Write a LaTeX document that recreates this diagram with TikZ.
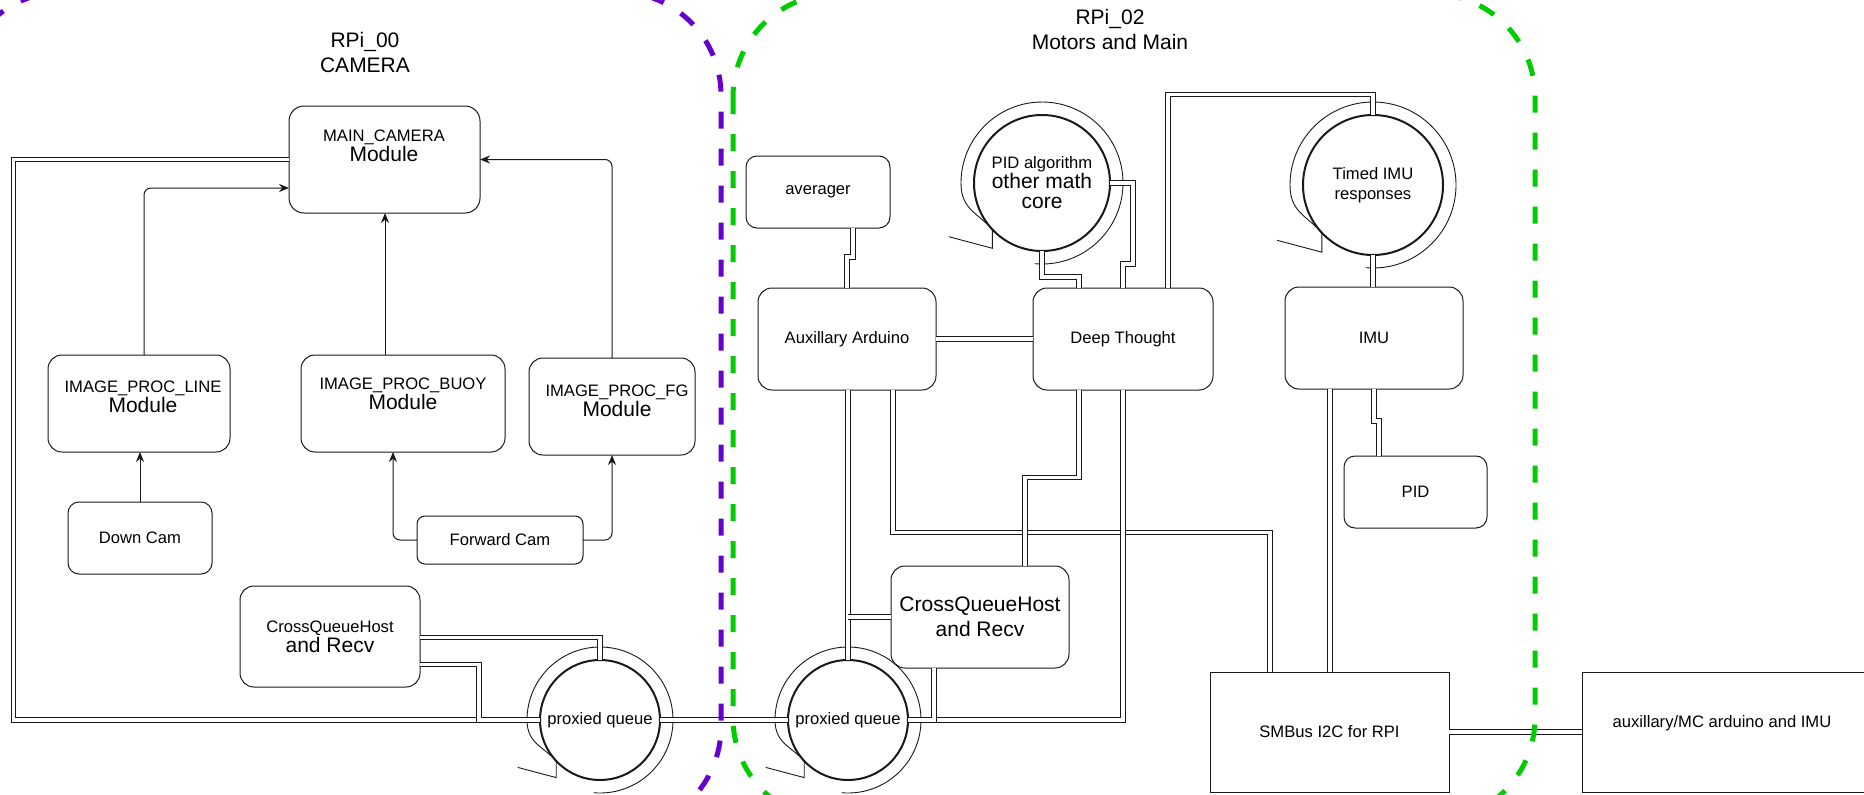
\documentclass[tikz,border=0pt]{standalone}
\usepackage{fontspec}
\setmainfont{Liberation Sans}
\usetikzlibrary{calc,arrows.meta}
\newcommand\fsm{\fontsize{16.6}{20}\selectfont}
\newcommand\fbg{\fontsize{21}{25}\selectfont}
\definecolor{vio}{RGB}{102,0,204}
\definecolor{grn}{RGB}{0,204,0}
\definecolor{ln}{RGB}{25,25,25}
\newcommand\cyc[2]{%
  \pgfmathsetmacro\RR{#2+13}%
  \pgfmathsetmacro\Ex{-0.73*#2}\pgfmathsetmacro\Ey{0.69*#2}%
  \pgfmathsetmacro\Fy{\Ey+0.27*#2}%
  \pgfmathsetmacro\Tx{\Ex-0.64*#2}\pgfmathsetmacro\Ty{\Fy-0.17*#2}%
  \pgfmathsetmacro\Cx{-\RR}\pgfmathsetmacro\Cy{0.4*#2}%
  \pgfmathsetmacro\Dx{\Ex-0.2*#2}\pgfmathsetmacro\Dy{\Ey-0.25*#2}%
  \draw[cycline] ([shift={(95:\RR)}]#1.center) arc[start angle=95,end angle=-180,radius=\RR]
    .. controls ([shift={(\Cx,\Cy)}]#1.center) and ([shift={(\Dx,\Dy)}]#1.center) .. ([shift={(\Ex,\Ey)}]#1.center)
    -- ([shift={(\Ex,\Fy)}]#1.center) -- ([shift={(\Tx,\Ty)}]#1.center);
}
\begin{document}
\begin{tikzpicture}[x=1pt,y=-1pt,
  rbox/.style={draw=ln, fill=white, line width=1pt, rounded corners=#1, inner sep=0pt, outer sep=0pt, align=center, font=\fsm},
  rbox/.default=14pt,
  sbox/.style={draw=ln, fill=white, line width=1pt, inner sep=0pt, outer sep=0pt, align=center, font=\fsm},
  circ/.style={draw=ln, fill=white, circle, line width=2pt, inner sep=0pt, outer sep=0pt, align=center, font=\fsm},
  txt/.style={inner sep=0pt, align=center, font=\fsm},
  lbl/.style={inner sep=0pt, align=center, font=\fbg},
  cycline/.style={draw=ln, line width=0.9pt},
  arr/.style={draw=ln, line width=1pt, rounded corners=7pt, -{Stealth[length=10pt,width=8pt]}},
  dbl/.style={draw=ln, line width=0.9pt, double=white, double distance=3.6pt},
  bound/.style={line width=5pt, dash pattern=on 17pt off 20pt, rounded corners=103pt}
]
\useasboundingbox (0,0) rectangle (1864,795);
\clip (0,0) rectangle (1864,795);

% labels
\node[lbl] (l0) at (365,52.5) {RPi\_00\\CAMERA};
\node[lbl] (l2) at (1110,29.5) {RPi\_02\\Motors and Main};

% left boxes
\node[rbox=15pt, minimum width=191pt, minimum height=107pt] (main) at (384.5,159.5) {};
\node[txt] (mainT) at (384,146) {MAIN\_CAMERA\\{\fbg Module}};
\node[rbox, minimum width=182pt, minimum height=97pt] (ipl) at (139,403.5) {};
\node[txt] (iplT) at (143,397) {IMAGE\_PROC\_LINE\\{\fbg Module}};
\node[rbox, minimum width=204pt, minimum height=97pt] (ipb) at (403,403.5) {};
\node[txt] (ipbT) at (403,394) {IMAGE\_PROC\_BUOY\\{\fbg Module}};
\node[rbox, minimum width=166pt, minimum height=97pt] (ipf) at (612,406.5) {};
\node[txt] (ipfT) at (617,401) {IMAGE\_PROC\_FG\\{\fbg Module}};
\node[rbox=11pt, minimum width=144pt, minimum height=72pt] (down) at (140,538) {Down Cam};
\node[rbox=8pt, minimum width=166pt, minimum height=48pt] (fwd) at (500,540) {Forward Cam};
\node[rbox, minimum width=180pt, minimum height=101pt] (cqhL) at (330,636.5) {CrossQueueHost\\{\fbg and Recv}};
\node[circ, minimum size=120pt] (qL) at (600,720) {proxied queue};

% right boxes
\node[rbox=11pt, minimum width=144pt, minimum height=72pt] (avg) at (818,192) {averager};
\node[rbox, minimum width=178pt, minimum height=102pt] (aux) at (847,339) {Auxillary Arduino};
\node[rbox, minimum width=180pt, minimum height=102pt] (dt) at (1123,339) {Deep Thought};
\node[circ, minimum size=136pt] (pidc) at (1042,183) {PID algorithm\\{\fbg other math}\\{\fbg core}};
\node[circ, minimum size=140pt] (timed) at (1373,185) {Timed IMU\\responses};
\node[rbox, minimum width=178pt, minimum height=102pt] (imu) at (1374,338) {IMU};
\node[rbox=11pt, minimum width=143pt, minimum height=72pt] (pid) at (1415.5,492) {PID};
\node[rbox, minimum width=178pt, minimum height=102pt, font=\fbg] (cqhR) at (980,617) {CrossQueueHost\\and Recv};
\node[circ, minimum size=120pt] (qR) at (848,720) {proxied queue};
\node[sbox, minimum width=239pt, minimum height=120pt] (smb) at (1329.5,732) {SMBus I2C for RPI};
\node[sbox, minimum width=298pt, minimum height=120pt] (amc) at (1731,732) {};
\node[txt] (amcT) at (1722,723) {auxillary/MC arduino and IMU};

% loop decorations
\cyc{qL}{60}
\cyc{qR}{60}
\cyc{pidc}{68}
\cyc{timed}{70}

% arrows (camera side)
\draw[arr] (ipl.north -| 144,0) |- (main.west |- 0,188);
\draw[arr] (ipb.north -| 385,0) -- (main.south -| 385,0);
\draw[arr] (ipf.north) |- (main.east);
\draw[arr] (down.north) -- (down.north |- ipl.south);
\draw[arr] (fwd.west) -| (ipb.south -| 393,0);
\draw[arr] (fwd.east) -| (ipf.south);

% double links, camera side
\draw[dbl] (main.west) -| (13.5,720) -- (qL.west);
\draw[dbl] (cqhL.east |- 0,637.5) -| (qL.north);
\draw[dbl] (cqhL.east |- 0,664.5) -| (479,720) -- (qL.west);
\draw[dbl] (qL.east) -- (qR.west);

% double links, motors side
\draw[dbl] (avg.south -| 853,0) -- (853,257) -- (847,257) -- (aux.north -| 847,0);
\draw[dbl] (aux.east) -- (dt.west);
\draw[dbl] (pidc.south) |- (1079,277) -- (dt.north -| 1079,0);
\draw[dbl] (pidc.east) -| (1133,264) -- (1123,264) -- (dt.north -| 1123,0);
\draw[dbl] (dt.north -| 1168,0) |- (1373,94.5) -- (timed.north);
\draw[dbl] (timed.south) -- (imu.north -| timed.south);
\draw[dbl] (imu.south -| 1330,0) -- (smb.north -| 1330,0);
\draw[dbl] (imu.south -| 1374,0) -- (1374,421) -- (1379,421) -- (pid.north -| 1379,0);
\draw[dbl] (aux.south -| 893,0) |- (1270,532.5) -- (smb.north -| 1270,0);
\draw[dbl] (aux.south -| qR.north) -- (qR.north);
\draw[dbl] (cqhR.west) -- (cqhR.west -| qR.north);
\draw[dbl] (cqhR.north -| 1025,0) |- (1079,477.5) -- (dt.south -| 1079,0);
\draw[dbl] (dt.south -| 1123,0) |- (qR.east);
\draw[dbl] (cqhR.south -| 934,0) |- (qR.east);
\draw[dbl] (smb.east) -- (amc.west |- smb.east);

% region boundaries
\draw[bound, vio] (-40,-8) rectangle (721,830);
\draw[bound, grn] (733,-6) rectangle (1535,821);
\end{tikzpicture}
\end{document}
